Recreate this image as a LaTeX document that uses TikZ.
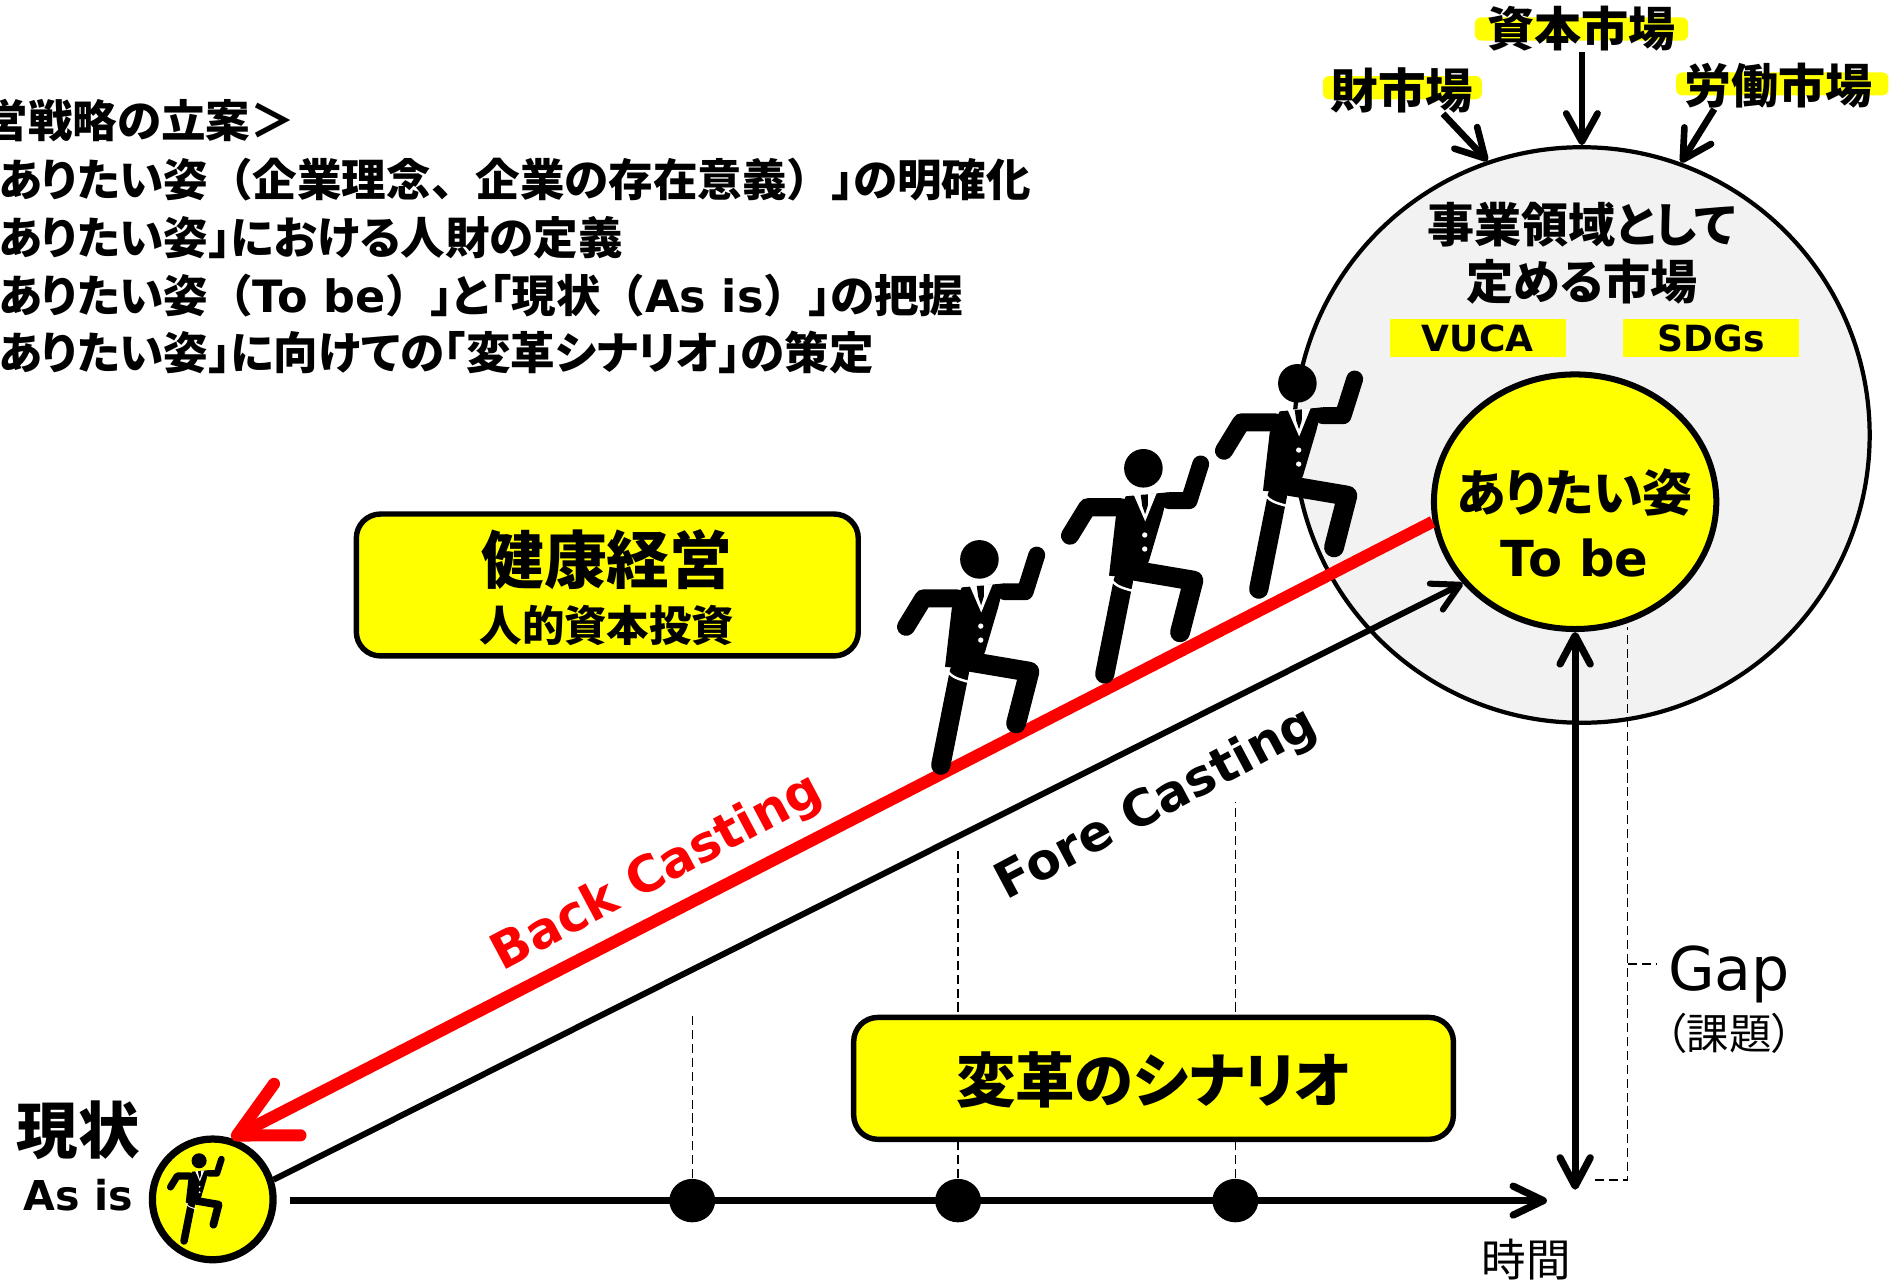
\documentclass[tikz,border=0pt]{standalone}
\usepackage{fontspec}
\setmainfont{DejaVu Sans}
\newfontfamily\jp{Noto Sans CJK JP}[RawFeature=+palt]
\newfontfamily\jpfw{Noto Sans CJK JP}
\newcommand\fw[1]{{\jpfw #1}}
% half-width corner brackets
\newcommand\ho[1]{\makebox[0.5em][r]{\jpfw #1}}
\newcommand\hc[1]{\makebox[0.5em][l]{\jpfw #1}}
\usetikzlibrary{arrows.meta,shapes.geometric}

\definecolor{hilite}{RGB}{255,255,0}
\definecolor{mktgray}{RGB}{242,242,242}
\definecolor{bcred}{RGB}{255,0,0}

\begin{document}
\begin{tikzpicture}[x=0.1mm,y=-0.1mm,
    txt/.style={inner sep=0},
    ybox/.style={draw,line width=0.45mm,fill=hilite,rounded corners=2mm,inner sep=0},
    tag/.style={fill=hilite,minimum width=14.6mm,minimum height=3.15mm,inner sep=0,font=\bfseries\fontsize{8.5pt}{10pt}\selectfont},
    mktarrow/.style={-{Straight Barb[length=2.35mm,width=2.6mm,round]},line width=0.55mm},
    guide/.style={line width=0.12mm,dash pattern=on 0.75mm off 0.4mm},
    dot/.style={ellipse,fill,minimum width=3.8mm,minimum height=3.6mm,inner sep=0},
    limb/.style={line cap=round,line join=round}]
  \useasboundingbox (0,0) rectangle (1568,1061);

  % planning steps (left part runs off the page)
  \node[txt,anchor=west,font=\jp\bfseries\fontsize{10.5pt}{12pt}\selectfont] (step0) at (-88,100) {\fw{＜}経営戦略の立案\fw{＞}};
  \node[txt,anchor=west,font=\jp\bfseries\fontsize{10.5pt}{12pt}\selectfont] (step1) at (-39,149) {\fw{「}ありたい姿\fw{（}企業理念\fw{、}企業の存在意義\fw{）}\hc{」}の明確化};
  \node[txt,anchor=west,font=\jp\bfseries\fontsize{10.5pt}{12pt}\selectfont] (step2) at (-39,197) {\fw{「}ありたい姿\hc{」}における人財の定義};
  \node[txt,anchor=west,font=\jp\bfseries\fontsize{10.5pt}{12pt}\selectfont] (step3) at (-39,245) {\fw{「}ありたい姿\fw{（}{\rmfamily To be}\fw{）}\hc{」}と\ho{「}現状\fw{（}{\rmfamily As is}\fw{）}\hc{」}の把握};
  \node[txt,anchor=west,font=\jp\bfseries\fontsize{10.5pt}{12pt}\selectfont] (step4) at (-39,292) {\fw{「}ありたい姿\hc{」}に向けての\ho{「}変革シナリオ\hc{」}の策定};

  % market circle
  \node[circle,draw,line width=0.35mm,fill=mktgray,minimum size=47.7mm,inner sep=0] (market) at (1311,360.5) {};
  \node[txt,align=center,font=\jp\bfseries\fontsize{11.1pt}{13.5pt}\selectfont] (domain) at (1311,210) {事業領域として\\定める市場};
  \node[tag] (vuca) at (1224.6,280.4) {VUCA};
  \node[tag] (sdgs) at (1418.3,280.4) {SDGs};

  \fill[hilite,rounded corners=0.5mm] (1096.5,63) rectangle (1228,82.3);
  \fill[hilite,rounded corners=0.5mm] (1222.4,14.4) rectangle (1399,33.7);
  \fill[hilite,rounded corners=0.5mm] (1389,60) rectangle (1565,79);
  \node[txt,font=\jp\bfseries\fontsize{11.2pt}{13pt}\selectfont] (goods) at (1162,74.7) {財市場};
  \node[txt,font=\jp\bfseries\fontsize{11.1pt}{13pt}\selectfont] (capital) at (1311,24) {資本市場};
  \node[txt,font=\jp\bfseries\fontsize{11.1pt}{13pt}\selectfont] (labour) at (1474,71) {労働市場};
  \draw[mktarrow] (goods.-30) -- (market.109);
  \draw[mktarrow] (capital.south) -- (market.north);
  \draw[mktarrow] (labour.200) -- (market.70);

  % to be / as is
  \node[ellipse,draw,line width=0.5mm,fill=hilite,minimum width=23.4mm,minimum height=21.1mm,inner sep=0] (tobe) at (1305.4,415.8) {};
  \node[txt,font=\jp\bfseries\fontsize{11.8pt}{13pt}\selectfont] (tobejp) at (1305,408) {ありたい姿};
  \node[txt,anchor=base,font=\bfseries\fontsize{11.7pt}{13pt}\selectfont] (tobeen) at (1305,478) {To be};
  \node[circle,draw,line width=0.6mm,fill=hilite,minimum size=10mm,inner sep=0] (asis) at (176.3,994) {};
  \node[txt,font=\jp\bfseries\fontsize{14.5pt}{16pt}\selectfont] (genjo) at (65,937) {現状};
  \node[txt,anchor=base,font=\bfseries\fontsize{9.7pt}{11pt}\selectfont] (asisen) at (65,1003) {As is};

  % time axis with milestones
  \coordinate (t0) at (240,995);
  \coordinate (t1) at (1282,995);
  \draw[-{Straight Barb[length=2.5mm,width=2.4mm,round]},line width=0.6mm] (t0) -- (t1);
  \node[dot] (d1) at (573.7,995) {};
  \node[dot] (d2) at (794,995) {};
  \node[dot] (d3) at (1023.8,995) {};
  \coordinate (g1) at (573.7,842);
  \coordinate (g2) at (794,705);
  \coordinate (g3) at (1023.8,665);
  \draw[guide] (d1) -- (g1);
  \draw[guide] (d2) -- (g2);
  \draw[guide] (d3) -- (g3);
  \node[txt,font=\jp\fontsize{10.5pt}{12pt}\selectfont] (jikan) at (1265,1044) {時間};

  % boxes
  \node[ybox,minimum width=41.6mm,minimum height=11.76mm] (kenko) at (503.3,484.8) {};
  \node[txt,font=\jp\bfseries\fontsize{14.8pt}{16pt}\selectfont] (kenkot) at (503,464) {健康経営};
  \node[txt,font=\jp\bfseries\fontsize{10pt}{12pt}\selectfont] (jinteki) at (503,518) {人的資本投資};
  \node[ybox,minimum width=49.7mm,minimum height=10.1mm] (henkaku) at (956,893.7) {};
  \node[txt,font=\jp\bfseries\fontsize{14pt}{16pt}\selectfont] (henkakut) at (956,895) {変革のシナリオ};

  % gap
  \coordinate (gapend) at (1305.4,986);
  \draw[{Straight Barb[length=2.35mm,width=2.5mm,round]}-{Straight Barb[length=2.35mm,width=2.5mm,round]},line width=0.6mm] (tobe.south) -- (gapend);
  \coordinate (gb1) at (1322,978);
  \coordinate (gb2) at (1349,978);
  \coordinate (gb3) at (1349,520);
  \coordinate (gt1) at (1349,799);
  \coordinate (gt2) at (1373,799);
  \draw[guide] (gb1) -- (gb2) -- (gb3);
  \draw[guide] (gt1) -- (gt2);
  \node[txt,anchor=base,font=\fontsize{14.2pt}{16pt}\selectfont] (gap) at (1433,820.5) {Gap};
  \node[txt,font=\jp\fontsize{10pt}{12pt}\selectfont] (kadai) at (1433,856) {（課題）};

  % back casting / fore casting
  \draw[bcred,line width=1mm,-{Straight Barb[length=4.7mm,width=4.8mm,round]}] (tobe.188) -- (asis.73);
  \draw[line width=0.5mm,-{Straight Barb[length=2.2mm,width=2.4mm,round]}] (asis.18) -- (tobe.216);
  \node[txt,rotate=28,text=bcred,font=\bfseries\fontsize{11.8pt}{13pt}\selectfont] (back) at (545,724) {Back Casting};
  \node[txt,rotate=28,font=\bfseries\fontsize{11.8pt}{13pt}\selectfont] (fore) at (959,667) {Fore Casting};

  % climbing businessmen
  \foreach \hx/\hy/\s in {811.7/463.6/1,947.6/388.1/1,1075.2/317.7/1,165/962/0.39}{
    \begin{scope}[shift={(\hx,\hy)},scale=\s]
      \fill (0,0) circle (16);
      \fill (-14.6,23.2) -- (20.4,19.9) -- (15.7,39.2) -- (4.7,76.5) -- (-2.2,91.7) -- (-28.5,89) -- (-22.9,40.6) -- cycle;
      \draw[limb,line width=\s*1.5mm] (-18.8,32.3) -- (-46.4,32.3) -- (-60.8,55.8);
      \draw[limb,line width=\s*1.4mm] (21.3,26.8) -- (37.9,26.8) -- (47.5,-3.6);
      \draw[limb,line width=\s*1.65mm] (-7.7,84.8) -- (41.4,93.1) -- (30.4,135.9);
      \draw[limb,line width=\s*1.6mm] (-16.6,93.1) -- (-32,170.5);
      \fill[white] (-8,22) -- (11,20.5) -- (1.5,44) -- cycle;
      \fill (-2.2,22) -- (3.8,21.6) -- (3.6,31) -- (1.4,38) -- (-1,31) -- cycle;
      \fill[white] (1.1,55.3) circle (2.2) (1.1,66.9) circle (2.2);
      \draw[white,line width=\s*0.2mm] (-29.8,89) .. controls (-22,98) .. (-5,102.6);
    \end{scope}
  }
\end{tikzpicture}
\end{document}
